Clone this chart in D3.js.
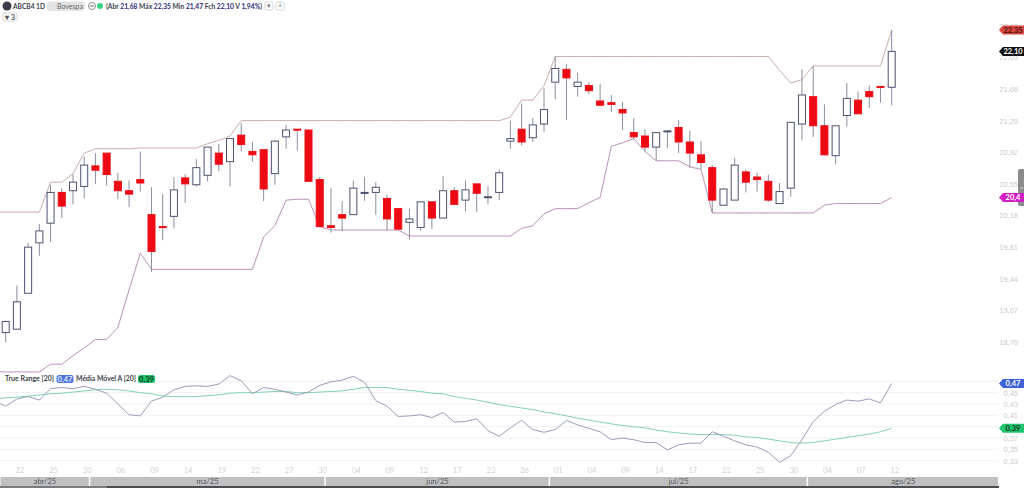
<!DOCTYPE html>
<html lang="pt-BR">
<head>
<meta charset="utf-8">
<title>ABCB4 1D</title>
<script src="https://cdn.jsdelivr.net/npm/d3@7"></script>
<style>
  html, body { margin: 0; padding: 0; background: #fff; }
  svg { display: block; font-family: Lato, "Open Sans", sans-serif; }
  .domain, .tick line { display: none; }
</style>
</head>
<body>
<svg id="chart" width="1024" height="488"></svg>
<script>
// Daily sessions, oldest first
const opens = [18.81,18.85,19.27,19.86,20.09,20.45,20.47,20.52,20.76,20.91,20.58,20.47,20.60,20.19,20.05,20.17,20.62,20.54,20.65,20.91,20.81,21.12,20.93,20.95,20.67,21.10,21.19,21.18,20.60,20.06,
  20.19,20.19,20.45,20.45,20.38,20.26,20.10,20.04,20.34,20.15,20.47,20.36,20.55,20.40,20.45,21.05,21.19,21.09,21.25,21.74,21.89,21.69,21.70,21.52,21.50,21.42,21.15,21.11,20.98,21.16,
  21.21,21.04,20.89,20.74,20.30,20.36,20.69,20.63,20.58,20.32,20.50,21.25,21.57,21.23,20.88,21.35,21.53,21.63,21.69,21.68];
const highs = [18.95,19.36,19.86,20.08,20.54,20.50,20.66,20.87,20.91,20.91,20.68,20.59,20.93,20.51,20.43,20.63,20.66,20.84,20.98,21.02,21.08,21.26,21.04,20.95,21.06,21.24,21.19,21.18,20.63,20.50,
  20.35,20.59,20.63,20.57,20.42,20.26,20.26,20.34,20.34,20.64,20.51,20.59,20.55,20.52,20.72,21.29,21.49,21.32,21.67,22.04,21.95,21.85,21.74,21.72,21.59,21.51,21.32,21.19,21.15,21.18,
  21.30,21.17,21.05,20.77,20.50,20.85,20.72,20.68,20.66,20.56,21.27,21.89,21.93,21.48,21.23,21.73,21.63,21.70,21.69,22.35];
const lows = [18.70,18.85,19.27,19.71,19.87,20.15,20.31,20.38,20.55,20.53,20.37,20.28,20.46,19.52,19.89,20.03,20.33,20.52,20.58,20.70,20.52,20.93,20.81,20.35,20.54,20.96,20.94,20.58,20.05,19.98,
  20.00,20.19,20.35,20.19,20.01,20.02,19.90,20.00,20.02,20.15,20.31,20.23,20.22,20.31,20.36,20.96,21.00,21.04,21.16,21.54,21.30,21.57,21.60,21.46,21.39,21.18,21.07,20.93,20.82,20.97,
  20.91,20.74,20.72,20.21,20.30,20.36,20.45,20.46,20.34,20.32,20.40,21.06,21.10,20.88,20.78,21.22,21.37,21.44,21.50,21.47];
const closes = [18.94,19.17,19.81,20.00,20.45,20.29,20.57,20.77,20.71,20.66,20.47,20.43,20.56,19.76,20.04,20.48,20.55,20.74,20.98,20.78,21.08,21.01,20.89,20.49,21.05,21.18,21.18,20.58,20.05,20.04,
  20.15,20.50,20.45,20.51,20.14,20.02,20.14,20.34,20.15,20.47,20.31,20.48,20.44,20.40,20.68,21.08,21.04,21.24,21.42,21.90,21.79,21.74,21.64,21.47,21.48,21.38,21.10,20.98,21.15,21.17,
  21.04,20.91,20.80,20.36,20.49,20.77,20.57,20.60,20.36,20.46,21.27,21.59,21.23,20.89,21.23,21.55,21.37,21.57,21.68,22.10];

// Channel and indicator series; the first entry belongs to the session just before the window
const upperChannel = [20.22,20.22,20.22,20.22,20.22,20.57,20.57,20.67,20.91,20.96,20.96,20.96,20.96,20.97,20.97,20.97,20.97,20.97,20.97,21.02,21.06,21.11,21.29,21.29,21.29,21.29,21.29,21.29,21.29,21.29,21.29,
  21.29,21.29,21.29,21.29,21.29,21.29,21.29,21.29,21.29,21.29,21.29,21.29,21.29,21.29,21.29,21.33,21.53,21.53,21.70,22.04,22.04,22.04,22.04,22.04,22.04,22.04,22.04,22.04,22.04,22.04,
  22.04,22.04,22.04,22.04,22.04,22.04,22.04,22.04,22.04,21.88,21.73,21.77,21.93,21.93,21.93,21.93,21.93,21.93,21.93,22.35];
const lowerChannel = [18.35,18.35,18.35,18.35,18.35,18.44,18.44,18.54,18.63,18.73,18.73,18.87,19.31,19.74,19.55,19.55,19.55,19.55,19.55,19.55,19.55,19.55,19.55,19.55,19.93,20.06,20.36,20.37,20.37,20.05,20.01,
  20.01,20.01,20.01,20.01,20.01,20.01,19.94,19.94,19.94,19.94,19.94,19.94,19.94,19.94,19.94,19.94,20.03,20.06,20.20,20.26,20.26,20.26,20.33,20.39,20.99,21.03,21.08,20.93,20.82,20.82,
  20.82,20.75,20.72,20.21,20.21,20.21,20.21,20.21,20.21,20.21,20.21,20.21,20.21,20.30,20.32,20.32,20.32,20.32,20.32,20.39];
const trueRange = [.435,.426,.439,.443,.437,.457,.459,.457,.461,.456,.449,.430,.411,.409,.435,.442,.455,.461,.462,.461,.465,.480,.471,.448,.459,.456,.451,.446,.451,.463,.469,
  .472,.479,.468,.436,.426,.408,.409,.411,.406,.415,.398,.399,.404,.383,.373,.388,.401,.385,.380,.385,.401,.393,.387,.381,.367,.370,.367,.362,.362,.349,
  .358,.361,.361,.381,.373,.365,.358,.354,.345,.327,.339,.367,.399,.417,.429,.437,.435,.439,.432,.466];
const trueRangeAvg = [.439,.441,.442,.444,.446,.448,.449,.451,.453,.455,.456,.455,.453,.450,.448,.444,.443,.443,.443,.445,.446,.449,.450,.450,.451,.452,.452,.450,.450,.451,.452,
  .453,.456,.459,.459,.459,.456,.454,.452,.449,.448,.443,.440,.437,.433,.429,.426,.423,.420,.416,.413,.409,.405,.402,.398,.395,.392,.390,.388,.384,.381,
  .379,.377,.376,.376,.376,.375,.372,.371,.368,.365,.362,.361,.362,.365,.368,.371,.374,.377,.381,.387];

// Axis labels
const priceTicks = [22.40,22.03,21.66,21.29,20.92,20.55,20.18,19.81,19.44,19.07,18.70];
const rangeTicks = [.45,.43,.41,.37,.35,.33];
const rangeGrid = [.47,.45,.43,.41,.39,.37,.35,.33];
const dateLabels = ["22","25","30","06","09","14","19","22","27","30","04","09","12","17","23","26","01","04","09","14","17","22","25","30","04","07","12"];
const months = ["abr/25","ma/25","jun/25","jul/25","ago/25"];
const monthStarts = [-1,8,29,49,72];

const legendQuote = [["(Abr ",null],["21,68","v"],[" Máx ",null],["22,35","v"],[" Min ",null],["21,47","v"],[" Fch ",null],["22,10","v"],[" V ",null],["1,94%","v"],[")",null]];

const INK = "#3c3f4a", WICK = "#8b8f9e", BODY = "#4d5270", RED = "#ee0a14";
const svg = d3.select("#chart");

const x = d3.scaleLinear().domain([0, 79]).range([5.7, 891.7]);
const yPrice = d3.scaleLinear().domain([18.70, 21.66]).range([342, 89]);
const yRange = d3.scaleLinear().domain([.33, .47]).range([460.7, 381.3]);
const lineX = (d, i) => x(i - 1);

svg.append("defs").append("clipPath").attr("id", "plot")
  .append("rect").attr("x", 0).attr("y", 0).attr("width", 998).attr("height", 488);
const plot = svg.append("g").attr("clip-path", "url(#plot)");

// Indicator grid
plot.append("g").selectAll("line").data(rangeGrid).join("line")
  .attr("x1", 0).attr("x2", 998)
  .attr("y1", d => yRange(d)).attr("y2", d => yRange(d))
  .attr("stroke", "#f0f1f1").attr("stroke-width", 1);

// Channel lines
const priceLine = d3.line().x(lineX).y(d => yPrice(d));
plot.append("path").attr("d", priceLine(upperChannel)).attr("fill", "none").attr("stroke", "#c9aeaa").attr("stroke-width", 1);
plot.append("path").attr("d", priceLine(lowerChannel)).attr("fill", "none").attr("stroke", "#bb90bb").attr("stroke-width", 1);

// Candles
const candles = d3.range(opens.length);
const g = plot.append("g");
g.selectAll("line").data(candles).join("line")
  .attr("x1", i => x(i)).attr("x2", i => x(i))
  .attr("y1", i => yPrice(highs[i])).attr("y2", i => yPrice(lows[i]))
  .attr("stroke", WICK).attr("stroke-width", 1);
g.selectAll("rect").data(candles).join("rect")
  .attr("x", i => x(i) - 3.5).attr("width", 7)
  .attr("y", i => yPrice(Math.max(opens[i], closes[i])))
  .attr("height", i => Math.max(1, Math.abs(yPrice(opens[i]) - yPrice(closes[i]))))
  .attr("fill", i => closes[i] < opens[i] ? RED : "#fff")
  .attr("stroke", i => closes[i] < opens[i] ? RED : BODY)
  .attr("stroke-width", 1);

// Indicator lines
const rangeLine = d3.line().x(lineX).y(d => yRange(d));
plot.append("path").attr("d", rangeLine(trueRangeAvg)).attr("fill", "none").attr("stroke", "#83d2b2").attr("stroke-width", 1);
plot.append("path").attr("d", rangeLine(trueRange)).attr("fill", "none").attr("stroke", "#9a9eba").attr("stroke-width", 1);

// Value axes
const comma = d3.format(".2f");
const fmt = v => comma(v).replace(".", ",");
svg.append("g").attr("transform", "translate(1021,0)")
  .call(d3.axisLeft(yPrice).tickValues(priceTicks).tickSize(0).tickFormat(fmt))
  .call(a => a.selectAll("text").attr("fill", "#cbcbcb").attr("font-size", 7.5));
svg.append("g").attr("transform", "translate(1021,0)")
  .call(d3.axisLeft(yRange).tickValues(rangeTicks).tickSize(0).tickFormat(fmt))
  .call(a => a.selectAll("text").attr("fill", "#cbcbcb").attr("font-size", 7.5));

// Date labels, one every third session
svg.append("g").selectAll("text").data(dateLabels).join("text")
  .attr("x", (d, i) => x(1 + i * 3) + 3).attr("y", 473)
  .attr("text-anchor", "middle").attr("font-size", 7.5).attr("fill", "#d2d2d2").text(d => d);

// Month strip: each band ends halfway between the last session of one month and the first of the next
const monthEdges = [...monthStarts.map(s => s < 0 ? 0 : x(s - 0.5)), 999];
const monthBands = months.map((m, i) => ({ m, a: monthEdges[i], b: monthEdges[i + 1] }));
svg.append("g").selectAll("rect").data(monthBands).join("rect")
  .attr("x", d => d.a + 0.5).attr("y", 477).attr("width", d => d.b - d.a - 1.5).attr("height", 9)
  .attr("fill", "#c0c0c0");
svg.append("g").selectAll("text").data(monthBands).join("text")
  .attr("x", d => (d.a + d.b) / 2).attr("y", 484).attr("text-anchor", "middle")
  .attr("font-size", 7.5).attr("fill", "#55585f").text(d => d.m);
svg.append("rect").attr("x", 0).attr("y", 486).attr("width", 999).attr("height", 2).attr("fill", "#7a7b7e");
svg.append("rect").attr("x", 107).attr("y", 486).attr("width", 892).attr("height", 2).attr("fill", "#4c4e52");

// Last-value tags
function tag(y, label, fill, textFill) {
  const w = 25, h = 9, p = 4, x0 = 999;
  svg.append("path")
    .attr("d", `M${x0},${y}l${p},${-h / 2}h${w - p}v${h}h${p - w}z`).attr("fill", fill);
  svg.append("text").attr("x", x0 + 14).attr("y", y + 2.8).attr("text-anchor", "middle")
    .attr("font-size", 7.5).attr("font-weight", 700).attr("fill", textFill).text(label);
}
// Scroll handle on the right edge
svg.append("rect").attr("x", 1018).attr("y", 169).attr("width", 7).attr("height", 37).attr("rx", 2).attr("fill", "#8b8b8b");
svg.append("text").attr("x", 1020).attr("y", 190).attr("font-size", 6).attr("fill", "#eee").text("<");

tag(yPrice(highs[79]), fmt(highs[79]), "#d9473f", "#4a1010");
tag(yPrice(closes[79]), fmt(closes[79]), "#0d0d0d", "#fff");
tag(yPrice(lowerChannel[80]), "20,4", "#d21fc4", "#fff");
tag(yRange(trueRange[80]), fmt(trueRange[80]), "#3f62d6", "#fff");
tag(yRange(trueRangeAvg[80]), fmt(trueRangeAvg[80]), "#1fc46c", "#0d3a22");

// Header row
const head = svg.append("g");
const fit = (sel, w) => sel.attr("textLength", w).attr("lengthAdjust", "spacingAndGlyphs");
head.append("circle").attr("cx", 7).attr("cy", 6).attr("r", 4.5).attr("fill", "#3a3d45");
head.append("text").attr("x", 13).attr("y", 8.5).attr("font-size", 8).attr("font-weight", 700).attr("fill", INK).text("ABCB4 1D").call(fit, 32);
head.append("rect").attr("x", 47).attr("y", 1.5).attr("width", 38).attr("height", 9.5).attr("rx", 3).attr("fill", "#e3e3e3");
head.append("text").attr("x", 57).attr("y", 8.5).attr("font-size", 8).attr("fill", "#666").text("Bovespa").call(fit, 26);
head.append("circle").attr("cx", 92).attr("cy", 6).attr("r", 3.5).attr("fill", "#fff").attr("stroke", "#8a8a8a");
head.append("line").attr("x1", 90).attr("x2", 94).attr("y1", 6).attr("y2", 6).attr("stroke", "#666");
head.append("circle").attr("cx", 100).attr("cy", 6).attr("r", 3).attr("fill", "#35d27f");
const quote = head.append("text").attr("x", 106).attr("y", 8.5).attr("font-size", 8).attr("font-weight", 700).attr("fill", INK)
  .attr("xml:space", "preserve").call(fit, 156);
quote.selectAll("tspan").data(legendQuote).join("tspan")
  .attr("fill", d => d[1] ? "#2b2a78" : INK).text(d => d[0]);
[[265, "▾"], [276, "+"]].forEach(([bx, s]) => {
  head.append("rect").attr("x", bx).attr("y", 2).attr("width", 8).attr("height", 8).attr("rx", 1.5).attr("fill", "#fff").attr("stroke", "#d5d5d5");
  head.append("text").attr("x", bx + 4).attr("y", 8.3).attr("text-anchor", "middle").attr("font-size", 7).attr("fill", "#777").text(s);
});
head.append("rect").attr("x", 3).attr("y", 13).attr("width", 14).attr("height", 8).attr("rx", 1.5).attr("fill", "#fff").attr("stroke", "#d5d5d5");
head.append("text").attr("x", 10).attr("y", 19.6).attr("text-anchor", "middle").attr("font-size", 7.5).attr("font-weight", 700).attr("fill", "#555").text("▾ 3");

// Indicator legend
const legend = svg.append("g");
legend.append("text").attr("x", 5).attr("y", 381).attr("font-size", 7.5).attr("font-weight", 700).attr("fill", INK).text("True Range [20]").call(fit, 49);
legend.append("rect").attr("x", 56.5).attr("y", 375).attr("width", 17).attr("height", 8).attr("rx", 2.5).attr("fill", "#4f74dc");
legend.append("text").attr("x", 65).attr("y", 381.5).attr("text-anchor", "middle").attr("font-size", 7.5).attr("font-weight", 700).attr("fill", "#dfe6fb").text(fmt(trueRange[80]));
legend.append("text").attr("x", 76).attr("y", 381).attr("font-size", 7.5).attr("font-weight", 700).attr("fill", INK).text("Média Móvel A [20]").call(fit, 60);
legend.append("rect").attr("x", 138).attr("y", 375).attr("width", 17).attr("height", 8).attr("rx", 2.5).attr("fill", "#20c36b");
legend.append("text").attr("x", 146.5).attr("y", 381.5).attr("text-anchor", "middle").attr("font-size", 7.5).attr("font-weight", 700).attr("fill", "#0d3a22").text(fmt(trueRangeAvg[80]));
</script>
</body>
</html>
